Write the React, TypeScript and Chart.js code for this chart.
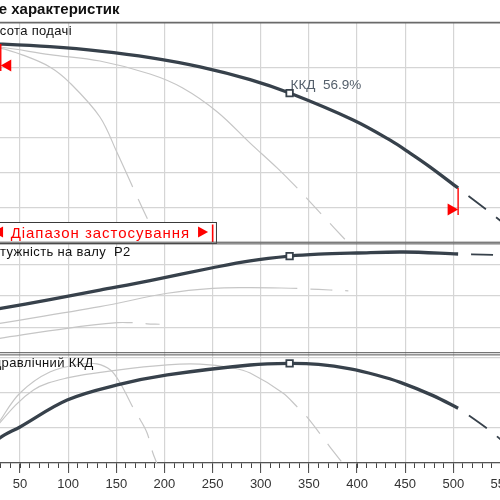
import React, { useEffect, useRef } from 'react';
import { Chart, registerables } from 'chart.js';

Chart.register(...registerables);

// ---------- data (flow Q, m³/h) ----------
const headMainQ = [0, 30, 81, 133, 185, 237, 289, 330, 396, 434, 455, 476, 505];
const headMainH = [11.42, 11.37, 11.22, 10.97, 10.6, 10.07, 9.34, 8.57, 7.03, 5.89, 5.14, 4.34, 3.14];
const headMainDashQ = [505, 515, 535, 546, 565];
const headMainDashH = [3.14, 2.72, 1.88, 1.4, 0.58];

const headMidQ = [0, 29, 81, 133, 185, 219, 255, 289, 317, 338];
const headMidH = [11.3, 11.2, 10.77, 10.4, 9.66, 8.86, 7.49, 5.71, 4.29, 3.14];
const headMidDashQ = [338, 362, 391];
const headMidDashH = [3.14, 1.71, 0];

const headLowQ = [0, 29, 53, 81, 102, 133, 151, 167];
const headLowH = [11.3, 11.14, 10.74, 10.06, 9.14, 7.2, 5.14, 3.2];
const headLowDashQ = [167, 183, 195];
const headLowDashH = [3.2, 1.31, 0];

const powerMainQ = [0, 30, 81, 133, 185, 250, 289, 330, 360, 400, 448, 505];
const powerMainP = [12.2, 13.0, 14.4, 15.9, 17.4, 19.45, 20.55, 21.3, 21.6, 21.79, 21.95, 21.63];
const powerMainDashQ = [505, 519, 543, 565];
const powerMainDashP = [21.63, 21.59, 21.48, 21.33];

const powerMidQ = [0, 29, 133, 203, 250, 289, 338];
const powerMidP = [9.9, 10.63, 13.27, 15.4, 16.19, 16.29, 16.19];
const powerMidDashQ = [338, 348, 372, 391];
const powerMidDashP = [16.19, 16.1, 15.92, 15.78];

const powerLowQ = [0, 29, 99, 151, 167];
const powerLowP = [7.6, 8.25, 9.84, 10.73, 10.73];
const powerLowDashQ = [167, 182, 195];
const powerLowDashP = [10.73, 10.55, 10.48];

const etaMainQ = [0, 29, 50, 99, 151, 203, 289, 330, 360, 393, 420, 445, 479, 505];
const etaMainE = [0, 14.3, 20.6, 36, 44.6, 50.3, 56, 56.9, 56.3, 53.8, 50.3, 46.1, 38.5, 31.3];
const etaMainDashQ = [505, 517, 536, 546, 565];
const etaMainDashE = [31.3, 26.9, 19.4, 14.9, 6];

const etaMidQ = [0, 29, 64, 99, 151, 203, 237, 271, 289, 323, 338];
const etaMidE = [0, 22.9, 41.7, 48.6, 53.1, 56.1, 56.5, 54.3, 51.4, 40, 32];
const etaMidDashQ = [338, 348, 372, 385];
const etaMidDashE = [32, 26.3, 9.1, 0];

const etaLowQ = [0, 29, 50, 81, 115, 130, 144, 154, 167];
const etaLowE = [0, 24, 40, 52, 56.6, 56.6, 53.1, 45.7, 32];
const etaLowDashQ = [167, 175, 182, 188, 192];
const etaLowDashE = [32, 24.6, 17.1, 5.7, 0];

const bepQ = 330;
const rangeQ = [30, 505];

const chartTitle = 'Поле характеристик';
const panelLabels = ['Висота подачі', 'Потужність на валу  P2', 'Гідравлічний ККД'];
const rangeLabel = 'Діапазон застосування';
const effLabel = 'ККД';

// ---------- styling ----------
const FONT = '"Liberation Sans", Arial, sans-serif';
const MAIN = '#37414b';
const THIN = '#c6c6c6';
const GRID = '#d5d5d5';
const RED = '#ff0000';

const pts = (q: number[], v: number[]) => q.map((x, i) => ({ x, y: v[i] }));

function valueAt(q: number[], v: number[], x: number): number {
  for (let i = 0; i < q.length - 1; i++) {
    if (x >= q[i] && x <= q[i + 1]) {
      const t = (x - q[i]) / (q[i + 1] - q[i]);
      return v[i] + t * (v[i + 1] - v[i]);
    }
  }
  return v[v.length - 1];
}

function line(data: any[], axis: string, color: string, width: number, dashed: boolean) {
  return {
    type: 'line',
    data,
    yAxisID: axis,
    borderColor: color,
    borderWidth: width,
    pointRadius: 0,
    fill: false,
    tension: 0.35,
    borderDash: dashed ? [22, 13] : [],
    borderDashOffset: dashed ? 22 : 0,
    borderCapStyle: 'butt',
  };
}

function marker(axis: string, y: number) {
  return {
    type: 'line',
    data: [{ x: bepQ, y }],
    yAxisID: axis,
    showLine: false,
    pointStyle: 'rect',
    pointRadius: 4.6,
    pointBorderWidth: 1.8,
    pointBackgroundColor: '#ffffff',
    pointBorderColor: MAIN,
  };
}

const overlay = {
  id: 'overlay',
  afterDatasetsDraw(chart: any) {
    const ctx: CanvasRenderingContext2D = chart.ctx;
    const { left } = chart.chartArea;
    const xs = chart.scales.x;
    const yH = chart.scales.yH;
    const yP = chart.scales.yP;
    const W = chart.width;
    ctx.save();

    const hline = (y: number, w: number, c: string) => {
      ctx.beginPath();
      ctx.moveTo(0, y);
      ctx.lineTo(W, y);
      ctx.lineWidth = w;
      ctx.strokeStyle = c;
      ctx.stroke();
    };

    // range box
    const boxL = left - 40;
    const boxR = left + 245.1;
    const boxT = yH.bottom - 21;
    const boxB = yH.bottom;
    ctx.fillStyle = '#ffffff';
    ctx.fillRect(boxL, boxT, boxR - boxL, boxB - boxT);
    ctx.strokeStyle = '#3a3a3a';
    ctx.lineWidth = 1;
    ctx.strokeRect(boxL + 0.5, boxT + 0.5, boxR - boxL - 1, boxB - boxT);

    ctx.fillStyle = RED;
    ctx.font = '15px ' + FONT;
    ctx.textBaseline = 'alphabetic';
    ctx.textAlign = 'left';
    (ctx as any).letterSpacing = '0px';
    const natural = ctx.measureText(rangeLabel).width;
    const target = 179.3;
    (ctx as any).letterSpacing = ((target - natural) / rangeLabel.length).toFixed(2) + 'px';
    ctx.fillText(rangeLabel, left + 38.8, boxB - 5.5);
    (ctx as any).letterSpacing = '0px';
    const cy = boxB - 11;
    ctx.beginPath();
    ctx.moveTo(left + 21, cy);
    ctx.lineTo(left + 31.2, cy - 5.5);
    ctx.lineTo(left + 31.2, cy + 5.5);
    ctx.closePath();
    ctx.fill();
    ctx.beginPath();
    ctx.moveTo(left + 236.2, cy);
    ctx.lineTo(left + 226.2, cy - 5.5);
    ctx.lineTo(left + 226.2, cy + 5.5);
    ctx.closePath();
    ctx.fill();
    ctx.beginPath();
    ctx.moveTo(left + 240.8, boxT + 2.5);
    ctx.lineTo(left + 240.8, boxB - 1);
    ctx.strokeStyle = RED;
    ctx.lineWidth = 1.6;
    ctx.stroke();

    // panel frame lines
    hline(yH.top + 0.6, 1.6, '#6a6a6a');
    hline(yH.bottom - 0.8, 1, '#555555');
    hline(yH.bottom + 0.9, 1, '#555555');
    hline(yP.bottom - 1.1, 1, '#555555');
    hline(yP.bottom + 1.1, 1, '#555555');

    // application range markers
    rangeQ.forEach((q, i) => {
      const px = xs.getPixelForValue(q);
      const py = yH.getPixelForValue(valueAt(headMainQ, headMainH, q));
      const dir = i === 0 ? 1 : -1;
      ctx.beginPath();
      ctx.moveTo(px, py);
      ctx.lineTo(px, py + 27);
      ctx.strokeStyle = RED;
      ctx.lineWidth = 1.4;
      ctx.stroke();
      ctx.beginPath();
      ctx.moveTo(px, py + 21.5);
      ctx.lineTo(px + dir * 10.5, py + 15.5);
      ctx.lineTo(px + dir * 10.5, py + 27.5);
      ctx.closePath();
      ctx.fillStyle = RED;
      ctx.fill();
    });

    // best efficiency label
    const bx = xs.getPixelForValue(bepQ);
    const by = yH.getPixelForValue(valueAt(headMainQ, headMainH, bepQ));
    const bepEta = valueAt(etaMainQ, etaMainE, bepQ);
    ctx.font = '13.5px ' + FONT;
    ctx.fillStyle = '#55606c';
    ctx.fillText(effLabel + '  ' + bepEta.toFixed(1) + '%', bx + 1, by - 4.5);

    // titles
    ctx.fillStyle = '#111111';
    ctx.font = 'bold 15px ' + FONT;
    ctx.fillText(chartTitle, left - 2, 13.5);
    ctx.font = '13px ' + FONT;
    (ctx as any).letterSpacing = '0.35px';
    const tops = [chart.scales.yH.top, chart.scales.yP.top, chart.scales.yE.top];
    panelLabels.forEach((t, i) => {
      ctx.fillText(t, left + 11.2, tops[i] + 12.7);
    });
    (ctx as any).letterSpacing = '0px';
    ctx.restore();
  },
};

function yAxis(stackWeight: number, weight: number, min: number, max: number, step: number, limit?: number) {
  return {
    type: 'linear',
    position: 'left',
    stack: 'panels',
    stackWeight,
    weight,
    min,
    max,
    ticks: { display: false, stepSize: step, includeBounds: false },
    grid: { color: GRID, lineWidth: 1.2, drawTicks: false },
    border: { display: false },
    afterBuildTicks: (s: any) => {
      if (limit !== undefined) s.ticks = s.ticks.filter((t: any) => t.value <= limit);
    },
    afterFit: (s: any) => {
      s.width = 0;
    },
  };
}

export default function App() {
  const ref = useRef<HTMLCanvasElement>(null);

  useEffect(() => {
    if (!ref.current) return;
    Chart.defaults.font.family = FONT;
    const datasets: any[] = [
      marker('yH', valueAt(headMainQ, headMainH, bepQ)),
      marker('yP', valueAt(powerMainQ, powerMainP, bepQ)),
      marker('yE', valueAt(etaMainQ, etaMainE, bepQ)),
      line(pts(headMainQ, headMainH), 'yH', MAIN, 3.3, false),
      line(pts(headMainDashQ, headMainDashH), 'yH', MAIN, 1.8, true),
      line(pts(powerMainQ, powerMainP), 'yP', MAIN, 3.3, false),
      line(pts(powerMainDashQ, powerMainDashP), 'yP', MAIN, 1.8, true),
      line(pts(etaMainQ, etaMainE), 'yE', MAIN, 3.3, false),
      line(pts(etaMainDashQ, etaMainDashE), 'yE', MAIN, 1.8, true),
      line(pts(headMidQ, headMidH), 'yH', THIN, 1.2, false),
      line(pts(headMidDashQ, headMidDashH), 'yH', THIN, 1.2, true),
      line(pts(headLowQ, headLowH), 'yH', THIN, 1.2, false),
      line(pts(headLowDashQ, headLowDashH), 'yH', THIN, 1.2, true),
      line(pts(powerMidQ, powerMidP), 'yP', THIN, 1.2, false),
      line(pts(powerMidDashQ, powerMidDashP), 'yP', THIN, 1.2, true),
      line(pts(powerLowQ, powerLowP), 'yP', THIN, 1.2, false),
      line(pts(powerLowDashQ, powerLowDashP), 'yP', THIN, 1.2, true),
      line(pts(etaMidQ, etaMidE), 'yE', THIN, 1.2, false),
      line(pts(etaMidDashQ, etaMidDashE), 'yE', THIN, 1.2, true),
      line(pts(etaLowQ, etaLowE), 'yE', THIN, 1.2, false),
      line(pts(etaLowDashQ, etaLowDashE), 'yE', THIN, 1.2, true),
    ];

    const chart = new Chart(ref.current, {
      type: 'line',
      data: { datasets },
      options: {
        animation: false,
        responsive: false,
        devicePixelRatio: 1,
        events: [],
        layout: { padding: { left: 31.86, right: 90.41, top: 22, bottom: 0 } },
        plugins: {
          legend: { display: false },
          tooltip: { enabled: false },
          title: { display: false },
        },
        scales: {
          x2: {
            type: 'linear',
            position: 'bottom',
            weight: 0,
            min: 0,
            max: 600,
            ticks: { display: false, stepSize: 10 },
            grid: { drawOnChartArea: false, tickLength: 5, tickColor: '#444444', tickWidth: 1 },
            border: { display: false },
            afterFit: (s: any) => {
              s.height = 0;
            },
          },
          x: {
            type: 'linear',
            position: 'bottom',
            weight: 1,
            min: 0,
            max: 600,
            ticks: {
              stepSize: 50,
              includeBounds: false,
              autoSkip: false,
              maxRotation: 0,
              padding: 4,
              color: '#333333',
              font: { size: 13, family: FONT },
            },
            grid: { color: GRID, lineWidth: 1.2, tickLength: 10, tickColor: '#444444', tickWidth: 1 },
            border: { display: true, color: '#555555', width: 1.3 },
            afterFit: (s: any) => {
              s.height = 37;
            },
          },
          yH: yAxis(221, 3, 0, 12.63, 2, 10.5),
          yP: yAxis(110.8, 2, 5.79, 23.38, 5),
          yE: yAxis(109.2, 1, 0, 62.4, 20),
        } as any,
      },
      plugins: [overlay],
    } as any);
    return () => chart.destroy();
  }, []);

  return (
    <div
      style={{
        position: 'fixed',
        left: 0,
        top: 0,
        width: 500,
        height: 500,
        overflow: 'hidden',
        background: '#ffffff',
      }}
    >
      <canvas
        ref={ref}
        width={700}
        height={500}
        style={{ position: 'absolute', left: -60, top: 0, width: 700, height: 500, display: 'block' }}
      />
    </div>
  );
}
